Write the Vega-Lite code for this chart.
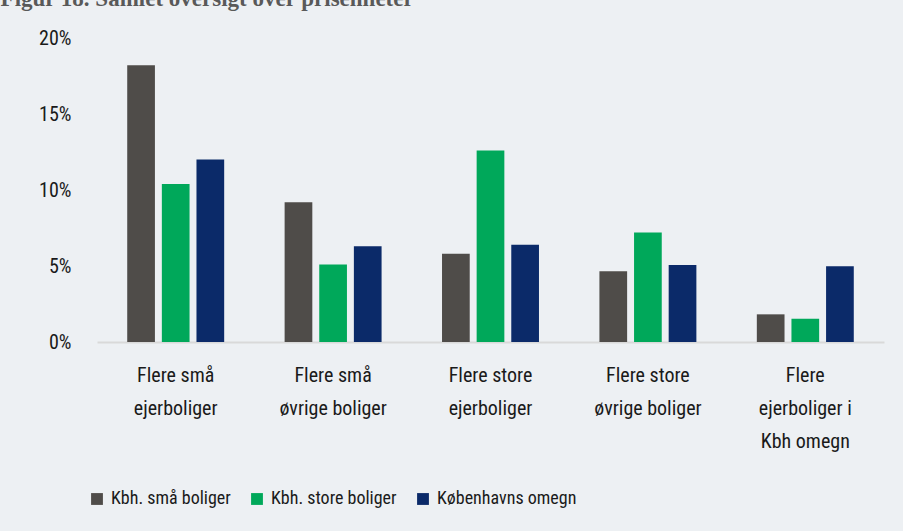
{
  "$schema": "https://vega.github.io/schema/vega-lite/v6.json",
  "autosize": {"type": "none"},
  "width": 787,
  "height": 304,
  "padding": {"left": 97, "top": 38, "right": 19, "bottom": 189},
  "background": "#EDF0F3",
  "title": {
    "text": "Figur 18. Samlet oversigt over prisenheter",
    "anchor": "start",
    "frame": "bounds",
    "font": "Liberation Serif",
    "fontWeight": "bold",
    "fontSize": 23,
    "color": "#595959",
    "baseline": "alphabetic",
    "dx": -38,
    "dy": 1,
    "offset": 0
  },
  "data": {
    "values": [
      {"kategori": "Flere små|ejerboliger", "serie": "Kbh. små boliger", "andel": 0.182},
      {"kategori": "Flere små|ejerboliger", "serie": "Kbh. store boliger", "andel": 0.104},
      {"kategori": "Flere små|ejerboliger", "serie": "Københavns omegn", "andel": 0.120},
      {"kategori": "Flere små|øvrige boliger", "serie": "Kbh. små boliger", "andel": 0.092},
      {"kategori": "Flere små|øvrige boliger", "serie": "Kbh. store boliger", "andel": 0.051},
      {"kategori": "Flere små|øvrige boliger", "serie": "Københavns omegn", "andel": 0.063},
      {"kategori": "Flere store|ejerboliger", "serie": "Kbh. små boliger", "andel": 0.058},
      {"kategori": "Flere store|ejerboliger", "serie": "Kbh. store boliger", "andel": 0.126},
      {"kategori": "Flere store|ejerboliger", "serie": "Københavns omegn", "andel": 0.064},
      {"kategori": "Flere store|øvrige boliger", "serie": "Kbh. små boliger", "andel": 0.0465},
      {"kategori": "Flere store|øvrige boliger", "serie": "Kbh. store boliger", "andel": 0.072},
      {"kategori": "Flere store|øvrige boliger", "serie": "Københavns omegn", "andel": 0.0507},
      {"kategori": "Flere|ejerboliger i|Kbh omegn", "serie": "Kbh. små boliger", "andel": 0.0182},
      {"kategori": "Flere|ejerboliger i|Kbh omegn", "serie": "Kbh. store boliger", "andel": 0.0153},
      {"kategori": "Flere|ejerboliger i|Kbh omegn", "serie": "Københavns omegn", "andel": 0.0498}
    ]
  },
  "mark": {"type": "bar"},
  "encoding": {
    "x": {
      "field": "kategori",
      "type": "nominal",
      "sort": null,
      "title": null,
      "scale": {"paddingInner": 0.384, "paddingOuter": 0.192},
      "axis": {
        "labelExpr": "split(datum.label, '|')",
        "labelAngle": 0,
        "labelFont": "Liberation Sans Narrow, Roboto Condensed, Liberation Sans",
        "labelFontSize": 20,
        "labelColor": "#1a1a1a",
        "labelLineHeight": 33,
        "labelBaseline": "top",
        "labelPadding": 23,
        "labelLimit": 300,
        "ticks": false,
        "domain": true,
        "domainColor": "#D9D9D9",
        "domainWidth": 2,
        "grid": false
      }
    },
    "xOffset": {
      "field": "serie",
      "type": "nominal",
      "sort": null,
      "scale": {"paddingInner": 0.2, "paddingOuter": 0}
    },
    "y": {
      "field": "andel",
      "type": "quantitative",
      "title": null,
      "scale": {"domain": [0, 0.2], "nice": false},
      "axis": {
        "format": ".0%",
        "values": [0, 0.05, 0.1, 0.15, 0.2],
        "labelFont": "Liberation Sans Narrow, Roboto Condensed, Liberation Sans",
        "labelFontSize": 20,
        "labelColor": "#1a1a1a",
        "labelPadding": 26,
        "ticks": false,
        "domain": false,
        "grid": false
      }
    },
    "color": {
      "field": "serie",
      "type": "nominal",
      "sort": null,
      "scale": {
        "domain": ["Kbh. små boliger", "Kbh. store boliger", "Københavns omegn"],
        "range": ["#4F4C49", "#00A85A", "#0B2A69"]
      },
      "legend": {
        "orient": "none",
        "direction": "horizontal",
        "legendX": -9,
        "legendY": 452,
        "title": null,
        "symbolType": "square",
        "symbolSize": 140,
        "symbolStrokeWidth": 0,
        "symbolOffset": 0,
        "labelOffset": 5,
        "columnPadding": 17,
        "labelFont": "Liberation Sans Narrow, Roboto Condensed, Liberation Sans",
        "labelFontSize": 18,
        "labelColor": "#1a1a1a",
        "labelLimit": 300
      }
    }
  },
  "config": {
    "view": {"stroke": null},
    "font": "Liberation Sans Narrow, Liberation Sans"
  }
}
